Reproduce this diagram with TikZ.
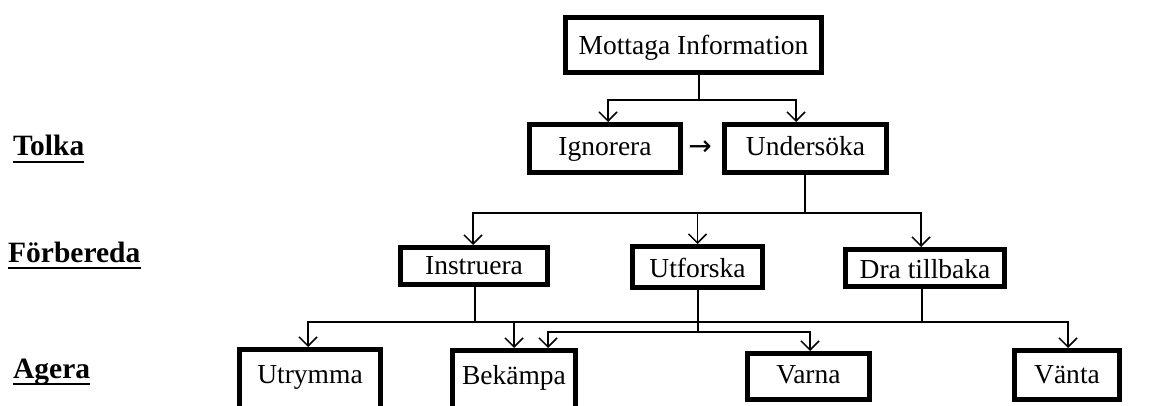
\documentclass[tikz,border=0pt]{standalone}
\usepackage{fontspec}
\setmainfont{Liberation Serif}
\newfontfamily\arrowfont{DejaVu Sans}
\usetikzlibrary{arrows.meta}
\begin{document}
\begin{tikzpicture}[x=1pt,y=-1pt,
  bx/.style={draw=black,line width=5pt,inner xsep=0pt,inner ysep=0pt,anchor=base,align=center,
    font=\fontsize{27.5}{32}\selectfont},
  conn/.style={line width=1.5pt},
  arr/.style={line width=1.5pt,-{Straight Barb[length=9pt,width=18pt,line width=1.5pt]}},
  lvl/.style={anchor=base west,inner sep=0pt,font=\fontsize{29.5}{34}\selectfont\bfseries},
  uline/.style={line width=2pt}]
\useasboundingbox (0,0) rectangle (1153,406);
% boxes
\node[bx,minimum width=256pt,text height=37.5pt,text depth=17.5pt] (mot) at (693.5,55) {Mottaga Information};
\node[bx,minimum width=151pt,text height=31.5pt,text depth=16.5pt] (ign) at (605,156) {Ignorera};
\node[bx,minimum width=162pt,text height=31.5pt,text depth=16.5pt] (und) at (805.5,156) {Undersöka};
\node[bx,minimum width=147pt,text height=26.5pt,text depth=10.5pt] (ins) at (474,274) {Instruera};
\node[bx,minimum width=130pt,text height=30.5pt,text depth=10.5pt] (utf) at (697.5,277) {Utforska};
\node[bx,minimum width=159pt,text height=28.5pt,text depth=8.5pt] (dra) at (925,278) {Dra tillbaka};
\node[bx,minimum width=141pt,text height=33.5pt,text depth=50pt] (utr) at (310,383) {Utrymma};
\node[bx,minimum width=123pt,text height=33.5pt,text depth=50pt] (bek) at (514,384) {Bekämpa};
\node[bx,minimum width=122pt,text height=29.5pt,text depth=16.5pt] (var) at (808.5,383) {Varna};
\node[bx,minimum width=105pt,text height=32.5pt,text depth=16.5pt] (van) at (1067,383) {Vänta};
\node[anchor=center,inner sep=0pt,font=\arrowfont\fontsize{28}{32}\selectfont] (pil) at (700,148) {→};
% level labels
\node[lvl] (tol) at (13,156) {Tolka};
\node[lvl] (forb) at (8,262) {Förbereda};
\node[lvl] (age) at (13,378) {Agera};
\foreach \n in {tol,forb,age}
  \draw[uline] ([yshift=-6pt]\n.base west) -- ([yshift=-6pt]\n.base east);
% junctions
\coordinate (j1) at (699,100);
\coordinate (j2) at (805,213);
\coordinate (j3) at (475,322);
\coordinate (j4) at (698,332);
% connectors
\draw[conn] (mot.south -| j1) -- (j1);
\draw[arr] (j1) -| ([xshift=3pt]ign.north);
\draw[arr] (j1) -| ([xshift=-9.5pt]und.north);
\draw[conn] (und.south -| j2) -- (j2);
\draw[arr] (j2) -| ([xshift=-1pt]ins.north);
\draw[arr] (j2) -| (utf.north);
\draw[arr] (j2) -| ([xshift=-4pt]dra.north);
\draw[conn] (ins.south -| j3) -- (j3);
\draw[arr] (j3) -| ([xshift=-2pt]utr.north);
\draw[arr] (j3) -| (bek.north);
\draw[arr] (j3) -| ([xshift=1pt]van.north);
\draw[conn] ([xshift=-3pt]dra.south) -- ([xshift=-3pt]dra.south |- j3);
\draw[conn] (utf.south -| j4) -- (j4);
\draw[arr] (j4) -| ([xshift=34pt]bek.north);
\draw[arr] (j4) -| ([xshift=1.5pt]var.north);
\end{tikzpicture}
\end{document}
